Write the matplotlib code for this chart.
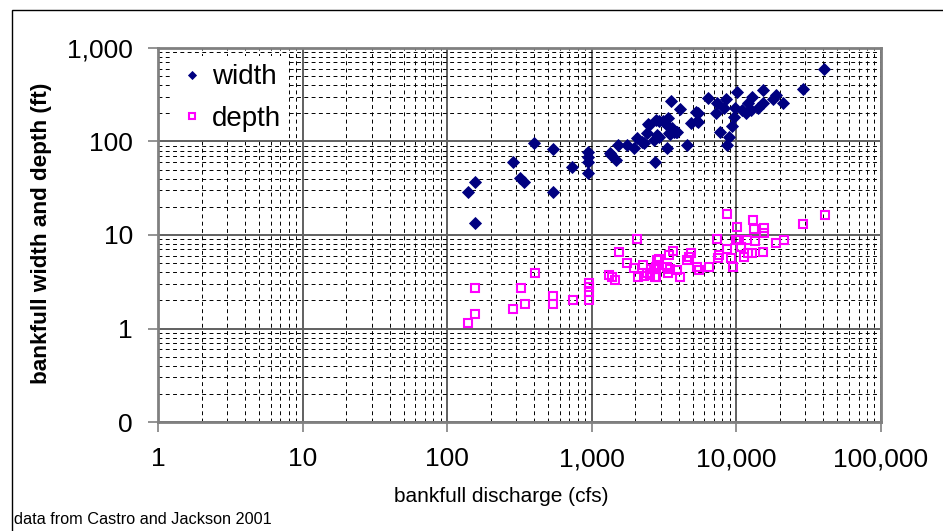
import matplotlib
matplotlib.use("Agg")
import matplotlib.pyplot as plt
from matplotlib.ticker import FixedLocator, FixedFormatter, LogLocator, NullFormatter
from matplotlib.patches import Rectangle

plt.rcParams['font.family'] = ['Liberation Sans', 'DejaVu Sans']

# ---- data ----
width_q = [139, 155, 155, 283, 318, 339, 397, 535, 535, 733, 935, 935, 935, 935,
           1328, 1365, 1462, 1516, 1762, 1958, 2044, 2239, 2296, 2422, 2440, 2485,
           2692, 2735, 2767, 2842, 2900, 2915, 3130, 3158, 3296, 3375, 3420, 3450,
           3500, 3554, 3609, 3700, 3803, 3900, 4055, 4584, 4831, 5236, 5378, 5467,
           5467, 6412, 7198, 7396, 7676, 8222, 8539, 8674, 8896, 9292, 9638, 9795,
           10070, 11020, 11620, 11940, 12580, 12920, 14000, 15170, 15170, 17960,
           18750, 21050, 28970, 40290]
width_ft = [28.6, 36.6, 13.3, 60.8, 41.0, 36.6, 95.7, 83.8, 28.6, 53.7, 77.8, 68.8, 60.8, 45.7,
            75.9, 71.0, 63.4, 91.8, 91.8, 84.6, 108, 99.5, 95.7, 122, 153, 150,
            104, 60.8, 170, 117, 113, 167, 166, 163, 85.9, 180, 122, 120,
            138, 273, 138, 127, 127, 127, 223, 91.8, 159, 208, 166, 203,
            163, 290, 200, 256, 127, 226, 283, 91.8, 113, 147, 184, 226,
            341, 217, 200, 256, 217, 301, 226, 356, 256, 283,
            314, 260, 361, 601]

depth_q = [140, 156, 156, 286, 343, 325, 402, 535, 541, 736, 950, 950, 950, 961,
           1322, 1372, 1455, 1534, 1762, 1958, 2044, 2099, 2274, 2296, 2422, 2525,
           2555, 2692, 2735, 2767, 2800, 2842, 2870, 2915, 3296, 3390, 3420, 3500,
           3667, 3910, 4055, 4550, 4700, 4890, 5378, 5520, 6470, 7310, 7460, 7640,
           8590, 8674, 9140, 9440, 9900, 10070, 10190, 10720, 11300, 11800, 12120,
           12920, 13000, 13280, 13400, 15170, 15560, 15560, 18750, 21200, 28970, 40750]
depth_ft = [1.14, 1.43, 2.73, 1.63, 1.83, 2.73, 3.95, 2.23, 1.83, 2.02, 3.04, 2.76, 2.47, 2.02,
            3.73, 3.58, 3.30, 6.58, 4.98, 4.44, 9.06, 3.53, 4.74, 3.65, 3.89, 3.73,
            4.30, 4.30, 3.53, 3.53, 4.58, 5.40, 4.74, 5.50, 4.60, 3.89, 6.11, 4.30,
            6.70, 4.22, 3.53, 5.40, 5.86, 6.47, 4.58, 4.22, 4.50, 9.06, 5.63, 6.11,
            7.03, 16.8, 5.63, 4.58, 8.85, 12.3, 8.90, 7.50, 5.86, 8.85, 6.47,
            6.37, 14.5, 11.5, 8.69, 6.63, 11.8, 10.4, 8.15, 8.85, 13.1, 16.5]

x_ticks = [1, 10, 100, 1000, 10000, 100000]
x_tick_labels = ["1", "10", "100", "1,000", "10,000", "100,000"]
y_ticks = [0.1, 1, 10, 100, 1000]
y_tick_labels = ["0", "1", "10", "100", "1,000"]

W, H = 943, 531
fig = plt.figure(figsize=(W / 100, H / 100), dpi=100)
fig.patch.set_facecolor('white')

# outer chart border
fig.patches.append(Rectangle((12 / W, -0.1), 1.2, 1 - 10 / H + 0.1, transform=fig.transFigure,
                             fill=False, edgecolor='black', linewidth=1.0))

ax = fig.add_axes([158 / W, 1 - 422 / H, (881 - 158) / W, (422 - 48) / H])
ax.set_xscale('log')
ax.set_yscale('log')
ax.set_xlim(1, 100000)
ax.set_ylim(0.1, 1000)

ax.xaxis.set_major_locator(FixedLocator(x_ticks))
ax.xaxis.set_major_formatter(FixedFormatter(x_tick_labels))
ax.yaxis.set_major_locator(FixedLocator(y_ticks))
ax.yaxis.set_major_formatter(FixedFormatter(y_tick_labels))
ax.xaxis.set_minor_locator(LogLocator(base=10, subs=range(2, 10), numticks=20))
ax.yaxis.set_minor_locator(LogLocator(base=10, subs=range(2, 10), numticks=20))
ax.xaxis.set_minor_formatter(NullFormatter())
ax.yaxis.set_minor_formatter(NullFormatter())

ax.tick_params(which='major', direction='out', length=7, width=1.2, color='#808080',
               labelsize=19, pad=11)
ax.tick_params(which='minor', length=0)

ax.grid(which='major', color='#606060', linewidth=1.4, linestyle='-')
ax.grid(which='minor', color='black', linewidth=0.7, linestyle=(0, (4, 3.5)))
ax.set_axisbelow(True)

for s in ax.spines.values():
    s.set_color('#808080')
    s.set_linewidth(2)

ax.plot(width_q, width_ft, linestyle='none', marker='D', markersize=5.8,
        markerfacecolor='#000080', markeredgecolor='#000080', markeredgewidth=0.6,
        label='width', zorder=3, clip_on=False)
ax.plot(depth_q, depth_ft, linestyle='none', marker='s', markersize=6.2,
        markerfacecolor='none', markeredgecolor='#FF00FF', markeredgewidth=1.5,
        label='depth', zorder=3, clip_on=False)

leg = ax.legend(loc='upper left', bbox_to_anchor=(173 / W, 1 - 56 / H),
                bbox_transform=fig.transFigure, fontsize=20, frameon=True,
                fancybox=False, edgecolor='white', framealpha=1, borderpad=0.3,
                handletextpad=0.3, handlelength=0.8, labelspacing=0.55,
                borderaxespad=0, markerscale=0.75)
leg.get_frame().set_linewidth(0)

fig.text(42 / W, 1 - 233 / H, "bankfull width and depth (ft)", rotation=90,
         ha='center', va='center', fontsize=16.2, fontweight='bold')
fig.text(501 / W, 1 - 497 / H, "bankfull discharge (cfs)", ha='center', va='center',
         fontsize=15)
fig.text(14 / W, 1 - 519 / H, "data from Castro and Jackson 2001", ha='left', va='center',
         fontsize=11.7)

fig.savefig("out.png", dpi=100, facecolor='white')
